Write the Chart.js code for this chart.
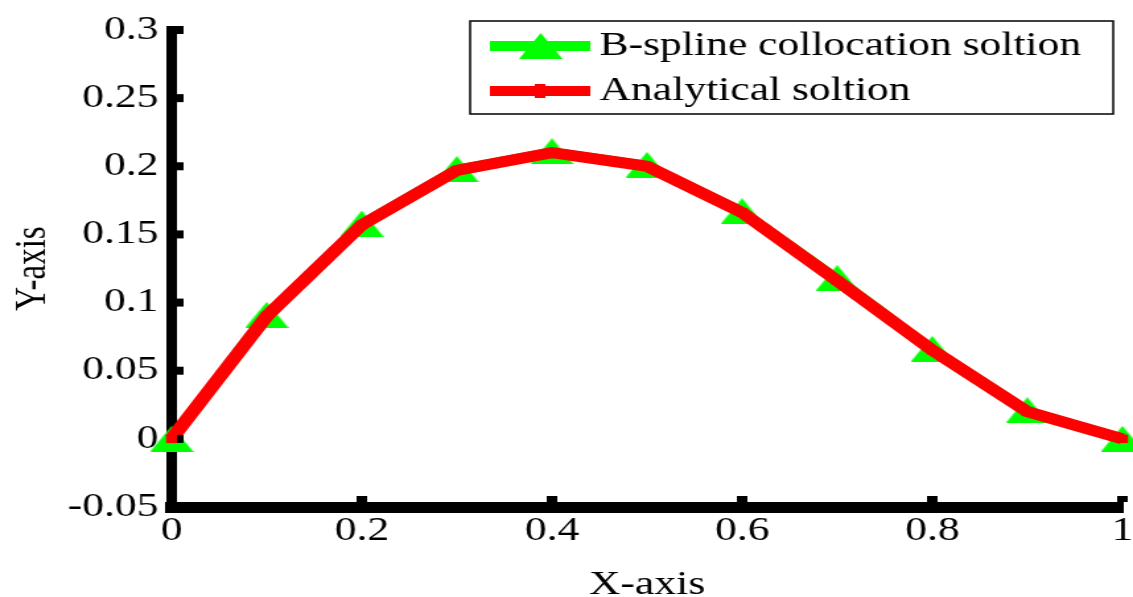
<!DOCTYPE html>
<html>
<head>
<meta charset="utf-8">
<title>B-spline vs analytical</title>
<script src="https://cdn.jsdelivr.net/npm/chart.js@4/dist/chart.umd.min.js"></script>
<style>
  html, body { margin: 0; padding: 0; background: #fff; overflow: hidden; }
  #wrap { width: 1133px; height: 597px; }
  /* the original figure is stretched sideways, so the canvas is too */
  #solChart { display: block; width: 1133px; height: 597px; }
</style>
</head>
<body>
<div id="wrap"><canvas id="solChart" width="858" height="597" style="width:1133px;height:597px"></canvas></div>
<script>
// data
const xValues = [0, 0.1, 0.2, 0.3, 0.4, 0.5, 0.6, 0.7, 0.8, 0.9, 1.0];
const bsplineValues = [0, 0.091, 0.158, 0.198, 0.211, 0.201, 0.167, 0.118, 0.066, 0.021, 0];
const analyticValues = [0, 0.090, 0.157, 0.197, 0.210, 0.200, 0.166, 0.116, 0.065, 0.020, 0];
const seriesNames = ["B-spline collocation soltion", "Analytical soltion"];
const xTickLabels = ["0", "0.2", "0.4", "0.6", "0.8", "1"];
const yTickLabels = ["-0.05", "0", "0.05", "0.1", "0.15", "0.2", "0.25", "0.3"];

const FONT = "'Liberation Serif', 'Times New Roman', serif";
const FONT_SIZE = 33;
const GREEN = "#00ff00";
const RED = "#ff0000";

// flattened triangle marker
function makeTriangle(w, h) {
  const c = document.createElement("canvas");
  c.width = w;
  c.height = h;
  const g = c.getContext("2d");
  g.fillStyle = GREEN;
  g.beginPath();
  g.moveTo(w / 2, 0);
  g.lineTo(w, h);
  g.lineTo(0, h);
  g.closePath();
  g.fill();
  return c;
}
const triangle = makeTriangle(33, 26);

function toPoints(ys) {
  return xValues.map((x, i) => ({ x: x, y: ys[i] }));
}

// legend box inside the plot, top right
const boxLegend = {
  id: "boxLegend",
  afterDraw(chart) {
    const ctx = chart.ctx;
    ctx.save();
    ctx.fillStyle = "#fff";
    ctx.fillRect(356, 21, 487, 93);
    ctx.strokeStyle = "#000";
    ctx.lineWidth = 1.5;
    ctx.strokeRect(356, 21, 487, 93);

    // green entry
    ctx.strokeStyle = GREEN;
    ctx.lineWidth = 10;
    ctx.beginPath();
    ctx.moveTo(371, 46);
    ctx.lineTo(447, 46);
    ctx.stroke();
    ctx.drawImage(triangle, 409 - 16, 46 - 13);

    // red entry
    ctx.strokeStyle = RED;
    ctx.beginPath();
    ctx.moveTo(371, 91);
    ctx.lineTo(447, 91);
    ctx.stroke();
    ctx.fillStyle = RED;
    ctx.fillRect(405, 84, 8, 14);

    ctx.fillStyle = "#000";
    ctx.font = FONT_SIZE + "px " + FONT;
    ctx.textBaseline = "middle";
    ctx.textAlign = "left";
    ctx.fillText(seriesNames[0], 454, 46);
    ctx.fillText(seriesNames[1], 454, 91);
    ctx.restore();
  }
};

// small inward tick nubs on both axes
const innerTicks = {
  id: "innerTicks",
  afterDatasetsDraw(chart) {
    const ctx = chart.ctx;
    const xs = chart.scales.x;
    const ys = chart.scales.y;
    ctx.save();
    ctx.fillStyle = "#000";
    xs.ticks.forEach(t => {
      const px = xs.getPixelForValue(t.value);
      ctx.fillRect(px - 4, ys.bottom - 11, 8, 6);
    });
    ys.ticks.forEach(t => {
      const py = ys.getPixelForValue(t.value);
      ctx.fillRect(xs.left + 4, py - 4, 5, 8);
    });
    ctx.restore();
  }
};

const ctx = document.getElementById("solChart").getContext("2d");
new Chart(ctx, {
  type: "line",
  data: {
    datasets: [
      {
        label: seriesNames[0],
        data: toPoints(bsplineValues),
        borderColor: GREEN,
        backgroundColor: GREEN,
        borderWidth: 8,
        pointStyle: triangle,
        pointRadius: 16,
        tension: 0,
        clip: false,
        order: 2
      },
      {
        label: seriesNames[1],
        data: toPoints(analyticValues),
        borderColor: RED,
        backgroundColor: RED,
        borderWidth: 11,
        pointStyle: "rect",
        pointRadius: 6,
        pointBorderWidth: 0,
        tension: 0,
        clip: false,
        order: 1
      }
    ]
  },
  options: {
    responsive: false,
    animation: false,
    layout: {
      autoPadding: false, // markers overhang the plot, don't let them shrink it
      padding: { top: 30, right: 8, left: 0, bottom: 0 }
    },
    plugins: {
      legend: { display: false },
      tooltip: { enabled: false }
    },
    scales: {
      x: {
        type: "linear",
        min: 0,
        max: 1,
        ticks: {
          stepSize: 0.2,
          padding: 5,
          color: "#000",
          font: { family: FONT, size: FONT_SIZE },
          maxRotation: 0,
          callback: (v, i) => xTickLabels[i]
        },
        grid: { display: false, drawTicks: false },
        border: { display: true, color: "#000", width: 11 },
        title: {
          display: true,
          text: "X-axis",
          color: "#000",
          font: { family: FONT, size: FONT_SIZE },
          padding: { top: 0, bottom: -8 }
        },
        afterFit: s => {
          s.height = 90;
          s.paddingLeft = 0;
          s.paddingRight = 0;
        }
      },
      y: {
        min: -0.05,
        max: 0.3,
        ticks: {
          stepSize: 0.05,
          padding: 10,
          color: "#000",
          font: { family: FONT, size: FONT_SIZE },
          callback: (v, i) => yTickLabels[i]
        },
        grid: { display: false, drawTicks: false },
        border: { display: true, color: "#000", width: 8 },
        title: {
          display: true,
          text: "Y-axis",
          color: "#000",
          font: { family: FONT, size: FONT_SIZE },
          padding: { top: 6, bottom: 0 }
        },
        afterFit: s => {
          s.width = 130;
          s.paddingTop = 0;
          s.paddingBottom = 0;
        }
      }
    }
  },
  plugins: [innerTicks, boxLegend]
});
</script>
</body>
</html>
